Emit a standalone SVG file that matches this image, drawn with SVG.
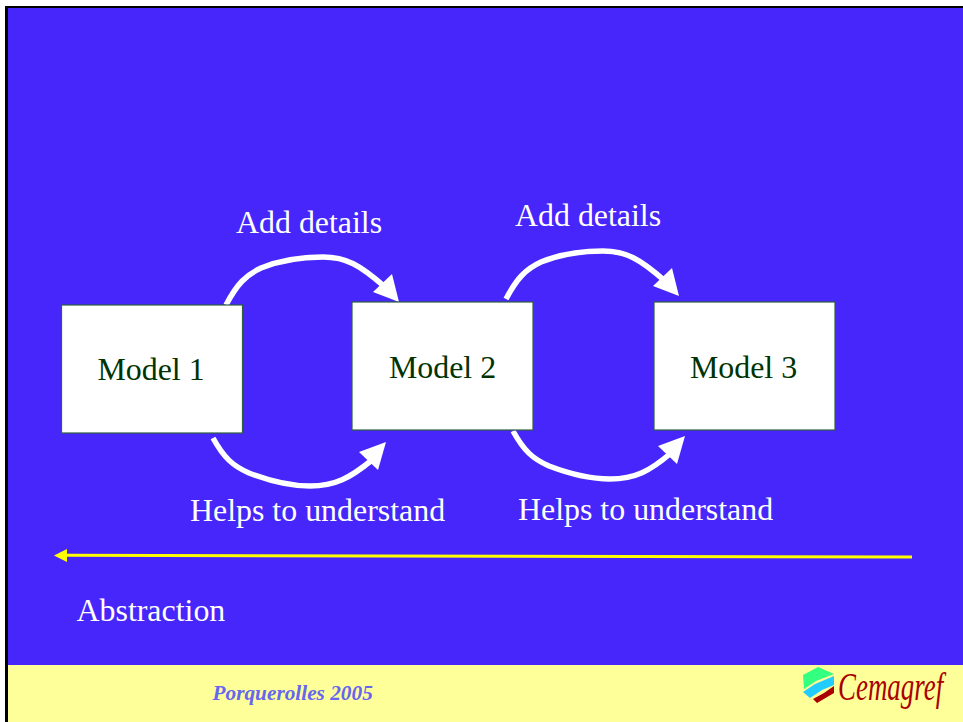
<svg xmlns="http://www.w3.org/2000/svg" width="963" height="722" viewBox="0 0 963 722">
<defs>
<style>
.t{font-family:"Liberation Serif","Times New Roman",serif;font-size:31.9px;fill:#fff}
.m{font-family:"Liberation Serif","Times New Roman",serif;font-size:31.9px;fill:#003300}
.box{fill:#fff;stroke:#2f5f3f;stroke-width:1.2}
.c{fill:none;stroke:#fff;stroke-width:5.5}
.h{fill:#fff}
</style>
</defs>
<rect width="963" height="722" fill="#fff"/>
<rect x="5" y="6" width="958" height="716" fill="#000"/>
<rect x="8" y="8" width="955" height="657" fill="#4626fb"/>
<rect x="8" y="665" width="955" height="57" fill="#ffff99"/>
<g id="connectors">
<path class="c" d="M226 305C237 284 246 275 261 268C283 259 305 257 323 257C346 257 360 265 385 287"/>
<polygon class="h" points="399,302 373,292 392,274"/>
<path class="c" d="M213 438C224 458 233 466 249 473C270 481 290 486 310 486C335 486 350 478 372 460"/>
<polygon class="h" points="386,442 378,470 359,452"/>
<path class="c" d="M506 299C517 278 526 269 541 262C563 253 585 251 603 251C626 251 640 259 665 281"/>
<polygon class="h" points="679,296 653,286 672,268"/>
<path class="c" d="M513 431C524 451 533 459 549 466C570 474 590 479 610 479C635 479 650 471 671 453"/>
<polygon class="h" points="685,436 677,464 658,446"/>
<path d="M912 557L65 555.300" fill="none" stroke="#ffff00" stroke-width="3"/>
<polygon points="54,555.500 67,549 67,562" fill="#ffff00"/>
</g>
<g id="model1"><rect class="box" x="61.500" y="305" width="181" height="128"/><text class="m" x="151" y="380" text-anchor="middle">Model 1</text></g>
<g id="model2"><rect class="box" x="352" y="302" width="181" height="128"/><text class="m" x="442.500" y="378" text-anchor="middle">Model 2</text></g>
<g id="model3"><rect class="box" x="654" y="302" width="181" height="128"/><text class="m" x="743.500" y="378" text-anchor="middle">Model 3</text></g>
<g id="labels">
<text class="t" x="236" y="233">Add details</text>
<text class="t" x="515" y="226">Add details</text>
<text class="t" x="190" y="521">Helps to understand</text>
<text class="t" x="518" y="520">Helps to understand</text>
<text class="t" x="76.500" y="621">Abstraction</text>
</g>
<g id="footer">
<text x="212.500" y="700" font-family="'Liberation Serif','Times New Roman',serif" font-size="21.300" font-weight="bold" font-style="italic" fill="#6666ee">Porquerolles 2005</text>
<g id="logo">
<polygon points="803,675 818,667 834,674 816,681 804,689" fill="#33ff80"/>
<polygon points="803,692 815,684 834,676 834,685 822,690 810,698" fill="#22ccff"/>
<polygon points="813,699 824,693 834,686 834,693 817,703" fill="#aa0000"/>
<text transform="translate(838 700) scale(.69 1)" font-family="'Liberation Serif','Times New Roman',serif" font-size="39" font-style="italic" fill="#aa0000">Cemagref</text>
</g>
</g>
</svg>
